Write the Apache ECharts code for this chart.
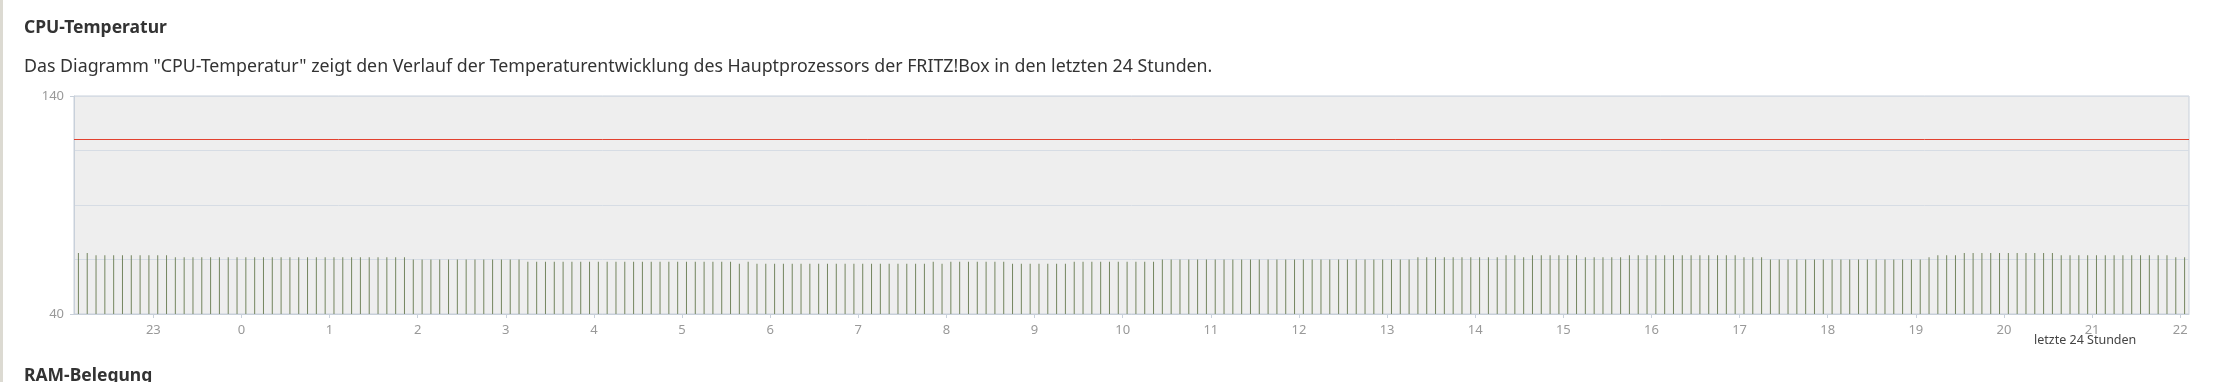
<!DOCTYPE html>
<html>
<head>
<meta charset="utf-8">
<script src="https://cdn.jsdelivr.net/npm/echarts@6/dist/echarts.min.js"></script>
<style>
  html, body { margin: 0; padding: 0; background: #ffffff; }
  #wrap { position: relative; width: 2215px; height: 382px; overflow: hidden; }
  #strip { position: absolute; left: 0; top: 0; width: 3px; height: 382px; background: #dcdad2; }
  #chart { position: absolute; left: 0; top: 0; width: 2215px; height: 382px; }
</style>
</head>
<body>
<div id="wrap"><div id="chart"></div><div id="strip"></div></div>
<script>
// ---- data ----
const TITLE = 'CPU-Temperatur';
const DESCRIPTION = 'Das Diagramm "CPU-Temperatur" zeigt den Verlauf der Temperaturentwicklung des Hauptprozessors der FRITZ!Box in den letzten 24 Stunden.';
const NEXT_TITLE = 'RAM-Belegung';
const X_NAME = 'letzte 24 Stunden';
// window start: 22:06 of the previous day (minutes), one sample every 6 minutes
const WINDOW_START_MIN = 22 * 60 + 6;
const WINDOW_LENGTH_MIN = 24 * 60;
const SAMPLE_STEP_MIN = 6;
// hour tick labels along the x axis
const HOUR_LABELS = ['23','0','1','2','3','4','5','6','7','8','9','10','11','12','13','14','15','16','17','18','19','20','21','22'];
const FIRST_HOUR_TICK_MIN = 23 * 60;
// y axis
const Y_MIN = 40, Y_MAX = 140;
const Y_LABELS = [40, 140];
const CRITICAL_TEMP = 120;
// CPU temperature (°C), 240 samples
const TEMPS = [
  68,68,67,67,67,67,67,67,67,67,
  67,66,66,66,66,66,66,66,66,66,
  66,66,66,66,66,66,66,66,66,66,
  66,66,66,66,66,66,66,66,65,65,
  65,65,65,65,65,65,65,65,65,65,
  65,64,64,64,64,64,64,64,64,64,
  64,64,64,64,64,64,64,64,64,64,
  64,64,64,64,64,63,64,63,63,63,
  63,63,63,63,63,63,63,63,63,63,
  63,63,63,63,63,63,63,64,63,64,
  64,64,64,64,64,64,63,63,63,63,
  63,63,63,64,64,64,64,64,64,64,
  64,64,64,65,65,65,65,65,65,65,
  65,65,65,65,65,65,65,65,65,65,
  65,65,65,65,65,65,65,65,65,65,
  65,65,66,66,66,66,66,66,66,66,
  66,66,67,67,66,67,67,67,67,67,
  67,66,66,66,66,66,67,67,67,67,
  67,67,67,67,67,67,67,67,67,66,
  66,66,65,65,65,65,65,65,65,65,
  65,65,65,65,65,65,65,65,65,65,
  66,67,67,67,68,68,68,68,68,68,
  68,68,68,68,68,67,67,67,67,67,
  67,67,67,67,67,67,67,67,66,66
];

// ---- build ----
const sampleTimes = TEMPS.map((_, i) => WINDOW_START_MIN + SAMPLE_STEP_MIN * i + SAMPLE_STEP_MIN / 2);
const hourTicks = HOUR_LABELS.map((_, k) => FIRST_HOUR_TICK_MIN + 60 * k);
const barData = TEMPS.map((v, i) => [sampleTimes[i], v]);

const axisColor = '#c8d0da';
const gridLineColor = '#d6dce4';
const tickLabelStyle = { color: '#999999', fontFamily: 'Noto Sans', fontSize: 13 };

const chart = echarts.init(document.getElementById('chart'), null, { renderer: 'canvas' });
chart.setOption({
  animation: false,
  backgroundColor: '#ffffff',
  title: [
    { text: TITLE, left: 24, top: 19, padding: 0,
      textStyle: { fontFamily: 'Noto Sans', fontWeight: 'bold', fontSize: 17.5, color: '#333333' } },
    { text: DESCRIPTION, left: 24, top: 58, padding: 0,
      textStyle: { fontFamily: 'Noto Sans', fontWeight: 'normal', fontSize: 17.8, color: '#333333' } },
    { text: NEXT_TITLE, left: 24, top: 367, padding: 0,
      textStyle: { fontFamily: 'Noto Sans', fontWeight: 'bold', fontSize: 17.5, color: '#333333' } },
    { text: X_NAME, left: 2034, top: 334, padding: 0,
      textStyle: { fontFamily: 'Noto Sans', fontWeight: 'normal', fontSize: 12.5, color: '#444444' } }
  ],
  grid: {
    left: 74, right: 26, top: 96, bottom: 68,
    outerBoundsMode: 'none', containLabel: false,
    show: true, backgroundColor: '#eeeeee', borderColor: axisColor, borderWidth: 1
  },
  xAxis: {
    type: 'value',
    min: WINDOW_START_MIN,
    max: WINDOW_START_MIN + WINDOW_LENGTH_MIN,
    axisLine: { show: true, lineStyle: { color: axisColor, width: 1 } },
    axisTick: { show: true, length: 4, customValues: hourTicks, lineStyle: { color: axisColor } },
    axisLabel: Object.assign({ customValues: hourTicks, margin: 10,
      formatter: v => HOUR_LABELS[hourTicks.indexOf(v)] }, tickLabelStyle),
    splitLine: { show: false }
  },
  yAxis: [
    {
      type: 'value', min: Y_MIN, max: Y_MAX,
      axisLine: { show: true, lineStyle: { color: axisColor, width: 1 } },
      axisTick: { show: true, length: 4, customValues: Y_LABELS, lineStyle: { color: axisColor } },
      axisLabel: Object.assign({ customValues: Y_LABELS, margin: 10 }, tickLabelStyle),
      splitLine: { show: false }
    },
    {
      // grid lines every 25 °C above the axis minimum
      type: 'value', min: 0, max: Y_MAX - Y_MIN, interval: 25, position: 'left',
      axisLine: { show: false }, axisTick: { show: false }, axisLabel: { show: false },
      splitLine: { show: true, lineStyle: { color: gridLineColor, width: 1 } }
    }
  ],
  series: [{
    type: 'bar',
    xAxisIndex: 0, yAxisIndex: 0,
    data: barData,
    barWidth: 1,
    clip: true,
    itemStyle: { color: '#73855e' },
    markLine: {
      silent: true, symbol: 'none', animation: false,
      label: { show: false },
      lineStyle: { color: '#e2412f', width: 1, type: 'solid' },
      data: [{ yAxis: CRITICAL_TEMP }]
    }
  }]
});
</script>
</body>
</html>
